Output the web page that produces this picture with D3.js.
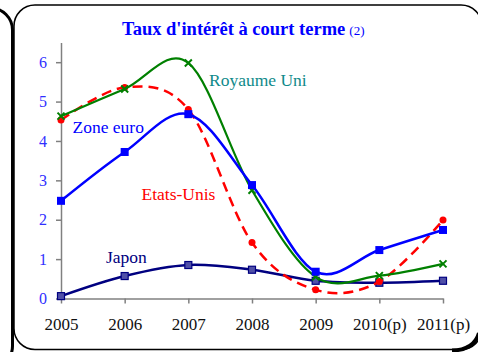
<!DOCTYPE html>
<html>
<head>
<meta charset="utf-8">
<script src="https://cdn.jsdelivr.net/npm/d3@7"></script>
<style>
  html, body { margin: 0; padding: 0; background: #fff; }
  svg { display: block; }
  text { font-family: "Liberation Serif", "Times New Roman", serif; }
</style>
</head>
<body>
<svg id="chart" width="478" height="352"></svg>
<script>
// Short-term interest rates, %
const years = ["2005", "2006", "2007", "2008", "2009", "2010(p)", "2011(p)"];
const yTicks = [0, 1, 2, 3, 4, 5, 6];
const royaumeUni = [4.63, 5.32, 5.98, 2.75, 0.55, 0.58, 0.88];
const zoneEuro   = [2.48, 3.72, 4.68, 2.88, 0.68, 1.23, 1.74];
const etatsUnis  = [4.53, 5.36, 4.80, 1.42, 0.22, 0.43, 1.99];
const japon      = [0.06, 0.57, 0.85, 0.73, 0.45, 0.40, 0.45];

const svg = d3.select("#chart");

// Panel frame: neighbouring panel edge on the left, rounded box around the chart
svg.append("rect")
  .attr("x", -60).attr("y", 8).attr("width", 72.5).attr("height", 360)
  .attr("rx", 22).attr("ry", 22)
  .attr("fill", "none").attr("stroke", "#000").attr("stroke-width", 3);
svg.append("rect")
  .attr("x", 14).attr("y", 5).attr("width", 468).attr("height", 344.5)
  .attr("rx", 21).attr("ry", 21)
  .attr("fill", "#fff").attr("stroke", "#000").attr("stroke-width", 1.5);
// heavier bottom-right corner
svg.append("path")
  .attr("d", "M452,350.5 Q474,350 479,333")
  .attr("fill", "none").attr("stroke", "#000").attr("stroke-width", 4);

const x = d3.scalePoint().domain(years).range([61, 443]);
const y = d3.scaleLinear().domain([0, 6.5]).range([298.5, 42.5]);

// Title
const title = svg.append("text")
  .attr("x", 122).attr("y", 35)
  .attr("fill", "#0000ff");
title.append("tspan").attr("font-weight", "bold").attr("font-size", 18.5)
  .text("Taux d'intérêt à court terme");
title.append("tspan").attr("font-size", 13).attr("dx", 4).text("(2)");

// Axes
const yAxis = svg.append("g").attr("transform", "translate(61,0)")
  .call(d3.axisLeft(y).tickValues(yTicks).tickFormat(d3.format("d")).tickSize(5).tickPadding(9).tickSizeOuter(0));
yAxis.select(".domain").attr("stroke", "#808080").attr("stroke-width", 1.5);
yAxis.selectAll(".tick line").attr("stroke", "#808080").attr("stroke-width", 1.5);
yAxis.selectAll(".tick text")
  .attr("font-family", "Liberation Serif, Times New Roman, serif")
  .attr("font-size", 16).attr("fill", "#2f2fff");

const xAxis = svg.append("g").attr("transform", "translate(0,298.5)")
  .call(d3.axisBottom(x).tickSize(5).tickPadding(14).tickSizeOuter(0));
xAxis.select(".domain").attr("stroke", "#808080").attr("stroke-width", 1.5);
xAxis.selectAll(".tick line").attr("stroke", "#808080").attr("stroke-width", 1.5);
xAxis.selectAll(".tick text")
  .attr("font-family", "Liberation Serif, Times New Roman, serif")
  .attr("font-size", 17).attr("fill", "#111");

// Smoothed series lines
const line = d3.line()
  .x((d, i) => x(years[i]))
  .y(d => y(d))
  .curve(d3.curveCatmullRom.alpha(0));

const series = [
  { name: "japon", values: japon, color: "#000080", width: 2.5, dash: null },
  { name: "etatsUnis", values: etatsUnis, color: "#ff0000", width: 2.5, dash: "10,6" },
  { name: "royaumeUni", values: royaumeUni, color: "#008000", width: 2.2, dash: null },
  { name: "zoneEuro", values: zoneEuro, color: "#0000ff", width: 2.5, dash: null }
];

series.forEach(s => {
  svg.append("path")
    .attr("d", line(s.values))
    .attr("fill", "none")
    .attr("stroke", s.color)
    .attr("stroke-width", s.width)
    .attr("stroke-dasharray", s.dash);

  const g = svg.append("g");
  s.values.forEach((v, i) => {
    const cx = x(years[i]), cy = y(v);
    if (s.name === "japon") {
      g.append("rect").attr("x", cx - 3.5).attr("y", cy - 3.5).attr("width", 7).attr("height", 7)
        .attr("fill", "#5050a8").attr("stroke", "#000080").attr("stroke-width", 1.2);
    } else if (s.name === "zoneEuro") {
      g.append("rect").attr("x", cx - 4).attr("y", cy - 4).attr("width", 8).attr("height", 8)
        .attr("fill", "#0000ff");
    } else if (s.name === "etatsUnis") {
      g.append("circle").attr("cx", cx).attr("cy", cy).attr("r", 3.5).attr("fill", "#ff0000");
    } else {
      const r = 3.5;
      g.append("path")
        .attr("d", `M${cx - r},${cy - r}L${cx + r},${cy + r}M${cx - r},${cy + r}L${cx + r},${cy - r}`)
        .attr("stroke", "#008000").attr("stroke-width", 2);
    }
  });
});

// Series labels
const labels = [
  { text: "Royaume Uni", x: 209, y: 86, color: "#108a8a" },
  { text: "Zone euro", x: 72.5, y: 133, color: "#0000ff" },
  { text: "Etats-Unis", x: 141.5, y: 200, color: "#ff0000" },
  { text: "Japon", x: 106, y: 263, color: "#000080" }
];
svg.selectAll("text.series-label").data(labels).join("text")
  .attr("class", "series-label")
  .attr("x", d => d.x).attr("y", d => d.y)
  .attr("font-size", 17.5)
  .attr("fill", d => d.color)
  .text(d => d.text);
</script>
</body>
</html>
